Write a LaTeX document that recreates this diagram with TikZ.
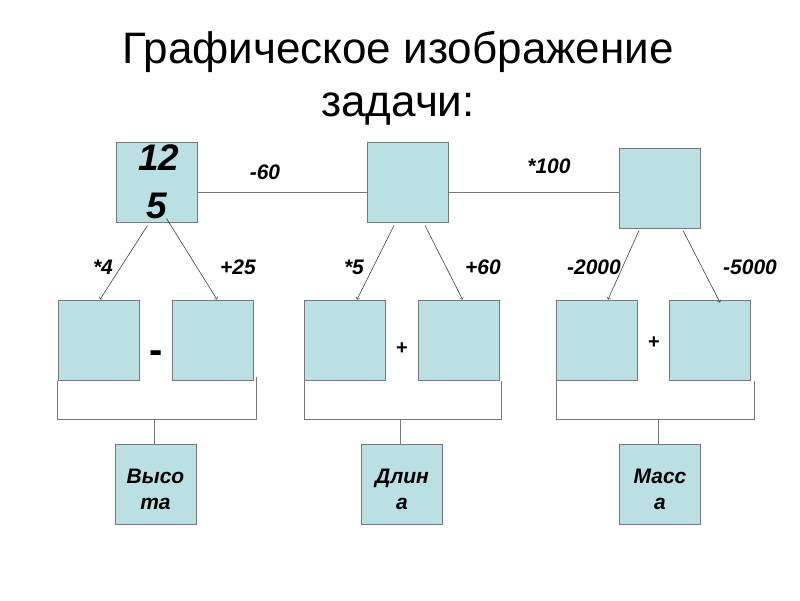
\documentclass[tikz,border=0pt]{standalone}
\usepackage{fontspec}
\setmainfont{Liberation Sans}
\definecolor{azulcaja}{RGB}{187,224,227}
\definecolor{gris}{RGB}{120,120,120}
\tikzset{
  caja/.style={draw=gris, fill=azulcaja, line width=1pt, minimum width=81pt, minimum height=80pt, inner sep=0pt, align=center},
  etiq/.style={font=\fontsize{21}{25}\selectfont\bfseries\itshape},
  oper/.style={font=\fontsize{20}{24}\selectfont\bfseries},
  linea/.style={draw=gris, line width=0.8pt},
  flecha/.style={->, draw=black!75, line width=0.6pt}
}
\begin{document}
\begin{tikzpicture}[x=1pt, y=-1pt]
        \useasboundingbox (0,0) rectangle (800,600);

        % Titulo
        \node[align=center, font=\fontsize{44}{53}\selectfont] (titulo) at (398,78) {Графическое изображение\\задачи:};

        % Cajas de arriba
        \node[caja, font=\fontsize{37}{48}\selectfont\bfseries\itshape] (A) at (156.5,182) {\hspace*{5pt}12\\5};
        \node[caja] (B) at (408,182) {};
        \node[caja] (C) at (660,188) {};

        % Lineas entre las cajas de arriba
        \draw[linea] ([yshift=-10pt]A.east) -- ([yshift=-10pt]B.west);
        \draw[linea] ([yshift=-10pt]B.east) -- ([yshift=-4pt]C.west);
        \node[etiq] (l60) at (265,172) {-60};
        \node[etiq] (l100) at (549,166) {*100};

        % Cajas de abajo
        \node[caja] (b1) at (98.5,340) {};
        \node[caja] (b2) at (213,340) {};
        \node[caja] (b3) at (345,340) {};
        \node[caja] (b4) at (458.5,340) {};
        \node[caja] (b5) at (597,340) {};
        \node[caja] (b6) at (710,340) {};

        % Flechas
        \draw[flecha] ([xshift=-9pt,yshift=-3pt]A.south) -- ([xshift=1.5pt]b1.north);
        \draw[flecha] ([xshift=10pt,yshift=4pt]A.south) -- ([xshift=4pt]b2.north);
        \draw[flecha] ([xshift=-14pt,yshift=-3pt]B.south) -- ([xshift=12pt]b3.north);
        \draw[flecha] ([xshift=17pt,yshift=-3pt]B.south) -- ([xshift=4pt]b4.north);
        \draw[flecha] ([xshift=-21pt,yshift=-2pt]C.south) -- ([xshift=11pt]b5.north);
        \draw[flecha] ([xshift=23pt,yshift=-2pt]C.south) -- ([xshift=10pt,yshift=-3pt]b6.north);
        \node[etiq] (m4) at (103,267) {*4};
        \node[etiq] (p25) at (238,267) {+25};
        \node[etiq] (m5) at (354,267) {*5};
        \node[etiq] (p60) at (483,267) {+60};
        \node[etiq] (r2000) at (594,267) {-2000};
        \node[etiq] (r5000) at (750,267) {-5000};

        % Signos
        \node[oper, font=\fontsize{40}{40}\selectfont\bfseries, anchor=base] (s1) at (156,363) {-};
        \node[oper] (s2) at (402,349) {+};
        \node[oper] (s3) at (654,343) {+};

        % Cajas de resultado
        \node[caja, text width=70pt, font=\fontsize{21}{26}\selectfont\bfseries\itshape] (r1) at (155.5,484.5) {\rule{0pt}{24pt}Высо\\та};
        \node[caja, text width=70pt, font=\fontsize{21}{26}\selectfont\bfseries\itshape] (r2) at (402,484.5) {\rule{0pt}{24pt}Длин\\а};
        \node[caja, text width=70pt, font=\fontsize{21}{26}\selectfont\bfseries\itshape] (r3) at (660,484.5) {\rule{0pt}{24pt}Масс\\а};

        % Llaves
        \coordinate (k1) at (154,419);
        \coordinate (k2) at (400,419);
        \coordinate (k3) at (658,419);
        \draw[linea] (b1.south west) -- (b1.south west |- k1) -- ([xshift=2pt]b2.south east |- k1) -- ([xshift=2pt,yshift=4pt]b2.south east);
        \draw[linea] (b3.south west) -- (b3.south west |- k2) -- ([xshift=2pt]b4.south east |- k2) -- ([xshift=2pt]b4.south east);
        \draw[linea] (b5.south west) -- (b5.south west |- k3) -- ([xshift=3pt]b6.south east |- k3) -- ([xshift=3pt]b6.south east);
        \draw[linea] (k1) -- (k1 |- r1.north);
        \draw[linea] (k2) -- (k2 |- r2.north);
        \draw[linea] (k3) -- (k3 |- r3.north);
    \end{tikzpicture}
\end{document}
